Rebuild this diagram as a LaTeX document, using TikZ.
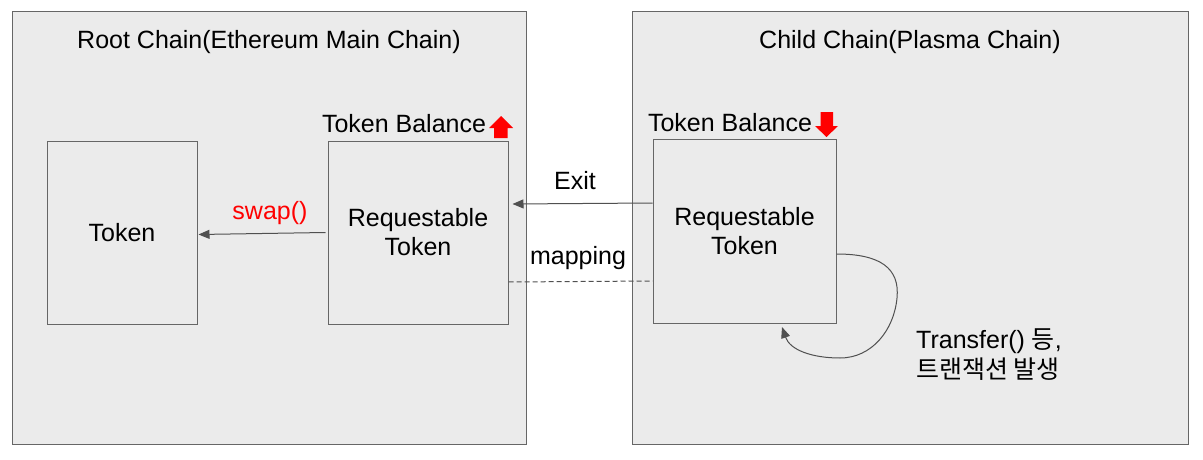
\documentclass[tikz,border=0pt]{standalone}
\usepackage{fontspec}
\setmainfont{Liberation Sans}
\newfontfamily\krfont{Noto Sans CJK KR}
\usetikzlibrary{arrows.meta}
\definecolor{panelfill}{RGB}{235,235,235}
\definecolor{panelline}{RGB}{102,102,102}
\definecolor{connline}{RGB}{80,80,80}
\definecolor{upred}{RGB}{255,0,0}
\begin{document}
\begin{tikzpicture}[x=1pt,y=-1pt,
  container/.style={draw=panelline, fill=panelfill, line width=1pt, inner sep=0pt},
  tbox/.style={draw=panelline, line width=1pt, inner sep=0pt, align=center,
    font=\fontsize{25}{29}\selectfont},
  lbl/.style={inner sep=0pt, font=\fontsize{25}{29}\selectfont},
  conn/.style={draw=connline, line width=1pt, -{Triangle[length=11pt,width=9pt]}},
  dconn/.style={draw=connline, line width=1pt, dash pattern=on 5pt off 3pt},
  balarrow/.style={fill=upred, draw=none}]
\fill[white] (0,0) rectangle (1203,460);
\useasboundingbox (0,0) rectangle (1203,460);
% containers
\node[container, minimum width=514pt, minimum height=432pt] (root) at (269,228) {};
\node[container, minimum width=556pt, minimum height=432pt] (child) at (910,228) {};
\node[lbl] (roottitle) at (269,42) {Root Chain(Ethereum Main Chain)};
\node[lbl] (childtitle) at (910,42) {Child Chain(Plasma Chain)};
% boxes
\node[tbox, minimum width=150pt, minimum height=183pt] (token) at (122,232.5) {Token};
\node[tbox, minimum width=180pt, minimum height=183pt] (rl) at (418,232.5) {Requestable\\Token};
\node[tbox, minimum width=183pt, minimum height=184pt] (rr) at (744.5,231) {Requestable\\Token};
% balance labels
\node[lbl] (balL) at (404,124) {Token Balance};
\node[lbl] (balR) at (730,123) {Token Balance};
\path[balarrow] (489,128) -- (501,116) -- (513,128) -- (507.5,128) -- (507.5,138) -- (494,138) -- (494,128) -- cycle;
\path[balarrow] (820.5,112) -- (833,112) -- (833,126) -- (838,126) -- (826.5,137) -- (815,126) -- (820.5,126) -- cycle;
% connectors
\draw[conn] ([yshift=28pt]rr.west) -- ([xshift=4pt,yshift=28.5pt]rl.east);
\node[lbl] (exitlbl) at (575,181) {Exit};
\draw[conn] ([xshift=-2pt]rl.west) -- ([xshift=1pt,yshift=-2pt]token.east);
\node[lbl, text=upred] (swaplbl) at (270,213) {swap()};
\draw[dconn] ([yshift=-49.5pt]rl.east) -- ([yshift=-50pt]rr.west);
\node[lbl] (maplbl) at (578,258) {mapping};
% self loop
\coordinate (looptip) at (782,327);
\draw[conn] ([yshift=-23pt]rr.east) .. controls (880,254) and (900,268) .. (897,298)
  .. controls (894,330) and (872,358) .. (840,358)
  .. controls (812,358) and (790,350) .. (looptip);
\node[lbl, anchor=west, align=left, font=\fontsize{25}{30}\selectfont] (translbl) at (916,355)
  {Transfer() {\krfont 등},\\{\krfont 트랜잭션 발생}};
\end{tikzpicture}
\end{document}
